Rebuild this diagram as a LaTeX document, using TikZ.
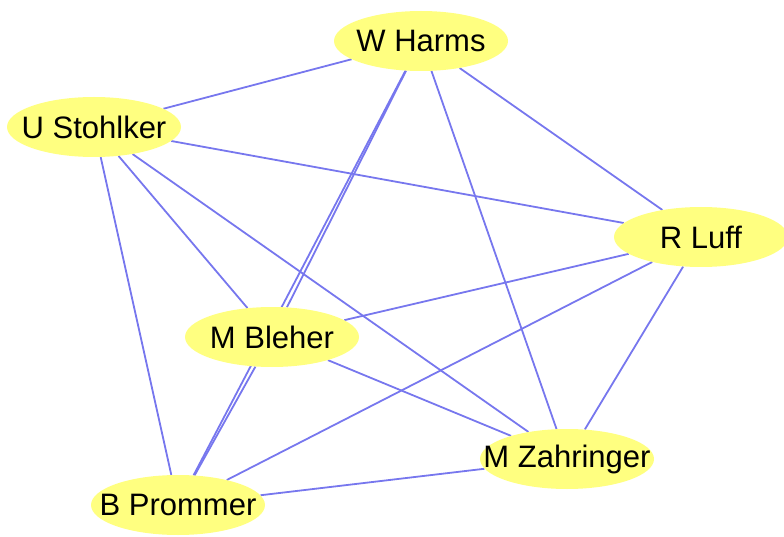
\documentclass[tikz,border=0pt]{standalone}
\usepackage{fontspec}
\setmainfont{Liberation Sans}
\usetikzlibrary{shapes.geometric, backgrounds}
\definecolor{nodeyellow}{HTML}{FFFF80}
\definecolor{edgeblue}{HTML}{7777EE}
\begin{document}
\begin{tikzpicture}[x=1pt, y=-1pt,
    person/.style={ellipse, fill=nodeyellow, minimum width=174pt, minimum height=60pt, inner sep=0pt,
      font=\fontsize{31}{36}\selectfont,
      execute at begin node={\hbox to 0pt\bgroup\hss\lower3pt\hbox\bgroup}, execute at end node={\egroup\hss\egroup}},
    link/.style={draw=edgeblue, line width=1.8pt}]
      \useasboundingbox (0,0) rectangle (784,537);
      % Nodes
      \node[person] at (421, 41) (wh) {W Harms};
      \node[person] at (94, 127) (us) {U Stohlker};
      \node[person] at (701, 237) (rl) {R Luff};
      \node[person] at (272, 337) (mb) {M Bleher};
      \node[person] at (567, 459) (mz) {M Zahringer};
      \node[person] at (178, 505) (bp) {B Prommer};

      \begin{pgfonlayer}{background}
      \draw[link] (wh) edge (us);
      \draw[link] (wh) edge (rl);
      \draw[link] (wh) edge (mb);
      \draw[link] (wh) edge (bp);
      \draw[link] (wh) edge (mz);
      \draw[link] (us) edge (rl);
      \draw[link] (us) edge (mb);
      \draw[link] (us) edge (mz);
      \draw[link] (us) edge (bp);
      \draw[link] (rl) edge (mb);
      \draw[link] (rl) edge (bp);
      \draw[link] (rl) edge (mz);
      \draw[link] (mb) edge (mz);
      \draw[link] (mb) edge (bp);
      \draw[link] (mz) edge (bp);
      \end{pgfonlayer}
    \end{tikzpicture}
\end{document}
